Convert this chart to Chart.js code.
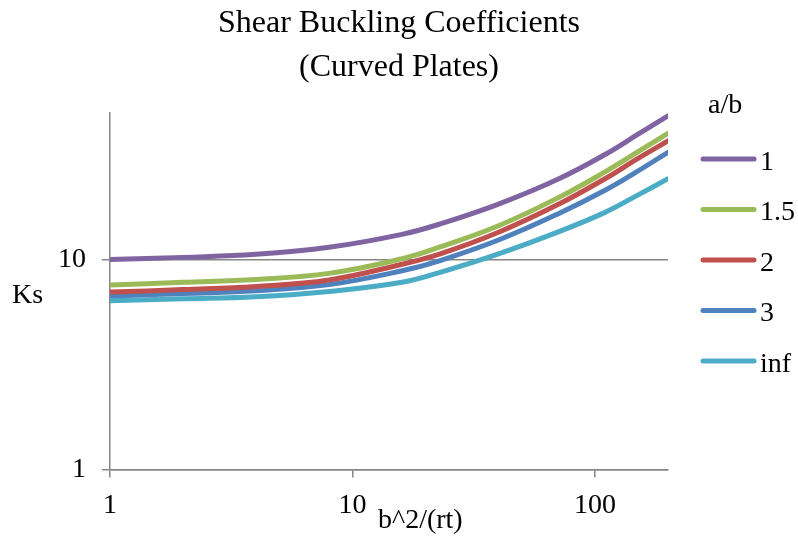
<!DOCTYPE html>
<html>
<head>
<meta charset="utf-8">
<script src="https://cdn.jsdelivr.net/npm/chart.js@4/dist/chart.umd.min.js"></script>
<style>
  html, body { margin: 0; padding: 0; background: #fff; }
</style>
</head>
<body>
<canvas id="ksChart" width="798" height="541"></canvas>
<script>
// b^2/(rt) values where the curves were read
const ratio = [1, 2, 4, 8, 16, 23, 40, 71, 110, 150, 200];

// Ks for each a/b
const ks_1   = [10.0, 10.25, 10.6, 11.45, 13.2, 14.8, 18.4, 24.3, 31.7, 39.5, 48.5];
const ks_1_5 = [7.57, 7.8, 8.05, 8.6, 10.1, 11.5, 14.5, 19.8, 26.2, 32.6, 40.0];
const ks_2   = [7.0, 7.2, 7.45, 8.0, 9.5, 10.65, 13.5, 18.4, 24.3, 30.3, 36.8];
const ks_3   = [6.7, 6.9, 7.1, 7.6, 8.85, 9.9, 12.4, 16.6, 21.4, 26.4, 32.5];
const ks_inf = [6.37, 6.5, 6.65, 7.05, 7.8, 8.7, 10.65, 13.6, 16.8, 20.3, 24.3];

const seriesNames = ["1", "1.5", "2", "3", "inf"];
const seriesData = [ks_1, ks_1_5, ks_2, ks_3, ks_inf];
const seriesColors = ["#8064A2", "#9BBB59", "#C0504D", "#4F81BD", "#4BACC6"];

const xTicks = [1, 10, 100];
const yTicks = [1, 10];

const serif = '"Liberation Serif", "Times New Roman", serif';
const axisGray = "#868686";

// axis titles and legend are drawn flat, like the original
const extraText = {
  id: "extraText",
  afterDraw(chart) {
    const ctx = chart.ctx;
    ctx.save();
    ctx.fillStyle = "#000";
    ctx.font = "28px " + serif;
    ctx.textBaseline = "alphabetic";
    ctx.textAlign = "left";
    ctx.fillText("Ks", 12, 303);
    ctx.fillText("b^2/(rt)", 378, 528);

    ctx.fillText("a/b", 708, 113);
    chart.data.datasets.forEach((ds, i) => {
      const y = 159 + i * 50.5;
      ctx.strokeStyle = ds.borderColor;
      ctx.lineWidth = 5;
      ctx.lineCap = "round";
      ctx.beginPath();
      ctx.moveTo(703, y);
      ctx.lineTo(754, y);
      ctx.stroke();
      ctx.fillText(ds.label, 760, y + 10.5);
    });
    ctx.restore();
  }
};

new Chart(document.getElementById("ksChart"), {
  type: "line",
  data: {
    datasets: seriesNames.map((name, i) => ({
      label: name,
      data: ratio.map((x, j) => ({ x: x, y: seriesData[i][j] })),
      borderColor: seriesColors[i],
      backgroundColor: seriesColors[i],
      borderWidth: 5,
      borderCapStyle: "round",
      pointRadius: 0,
      tension: 0.4,
      fill: false
    }))
  },
  options: {
    responsive: false,
    animation: false,
    layout: { padding: { left: 0, right: 0, top: 0, bottom: 8 } },
    plugins: {
      legend: { display: false },
      tooltip: { enabled: false },
      title: {
        display: true,
        text: ["Shear Buckling Coefficients", "(Curved Plates)"],
        color: "#000",
        font: { family: serif, size: 32, weight: "normal", lineHeight: 1.375 },
        padding: { top: 2, bottom: 23 }
      }
    },
    scales: {
      x: {
        type: "logarithmic",
        min: 1,
        max: 200,
        afterBuildTicks: s => { s.ticks = xTicks.map(v => ({ value: v })); },
        ticks: {
          color: "#000",
          font: { family: serif, size: 28 },
          padding: 11,
          maxRotation: 0,
          callback: v => String(v)
        },
        grid: { drawOnChartArea: false, tickLength: 8, color: axisGray, lineWidth: 1.5 },
        border: { color: axisGray, width: 1.5 }
      },
      y: {
        type: "logarithmic",
        min: 1,
        max: 50,
        afterBuildTicks: s => { s.ticks = yTicks.map(v => ({ value: v })); },
        afterFit: s => { s.width = 110; },
        ticks: {
          color: "#000",
          font: { family: serif, size: 28 },
          padding: 16,
          callback: v => String(v)
        },
        grid: { tickLength: 8, color: axisGray, lineWidth: 1.5 },
        border: { color: axisGray, width: 1.5 }
      },
      // empty axis on the right keeps room for the legend
      legendRoom: {
        type: "linear",
        position: "right",
        grid: { display: false },
        border: { display: false },
        ticks: { display: false },
        afterFit: s => { s.width = 130; }
      }
    }
  },
  plugins: [extraText]
});
</script>
</body>
</html>
